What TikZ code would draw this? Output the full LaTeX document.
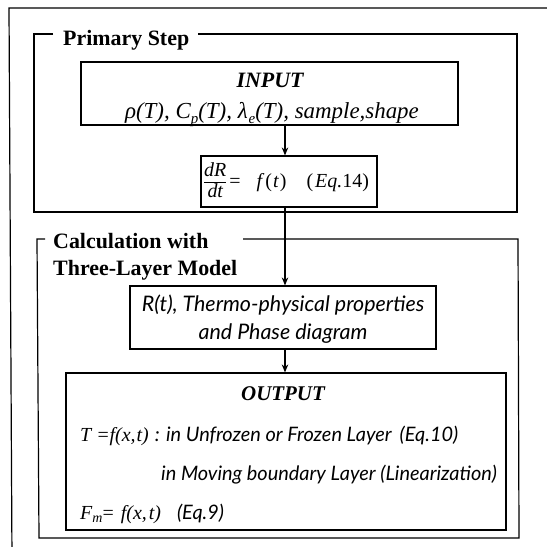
\documentclass[tikz,border=0pt]{standalone}
\usepackage{fontspec}
\setmainfont{Liberation Serif}
\newfontfamily\osans{Lato}
\usetikzlibrary{arrows.meta}
\newcommand\fsz[1]{\fontsize{#1}{#1}\selectfont}
\newcommand\lowsub[2][13]{\raisebox{-0.4ex}{\fontsize{#1}{#1}\selectfont #2}}
\newcommand\sit{\osans\itshape}
\newcommand\myfrac[2]{\begin{tabular}{@{}c@{}}#1\\\hline\rule{0pt}{15bp}#2\end{tabular}}
\begin{document}
\begin{tikzpicture}[x=1bp,y=-1bp,
  frame/.style={line width=1.2bp, line join=miter},
  box/.style={draw, line width=1.2bp, inner sep=0pt},
  txt/.style={inner sep=0pt, anchor=base},
  txtw/.style={inner sep=0pt, anchor=base west},
  gtitle/.style={inner sep=0pt, anchor=base west, font=\bfseries\fsz{22}},
  arr/.style={line width=1.1bp, -{Stealth[length=8bp,width=6.5bp]}}]

\useasboundingbox (0,0) rectangle (547,547);
\clip (0,0) rectangle (547,547);

% outer frame (cut by the page edges)
\draw[frame] (560,8) -- (9,8) -- (12,560);

% ---------- Primary Step ----------
\node[gtitle] (ptitle) at (63,46) {Primary Step};
\draw[frame] (53,34) -- (34,34) -- (34,212) -- (517,212) -- (517,34) -- (198,34);

\node[box, minimum width=377bp, minimum height=63bp] (input) at (269.5,93.5) {};
\node[txt, font=\bfseries\itshape\fsz{22}] (intitle) at (270,88) {INPUT};
\node[txt, font=\itshape\fsz{23}] (inline) at (272,119)
  {ρ(T), C\lowsub[15]{p}(T), λ\lowsub[15]{\kern1bp e}(T), sample,shape};

\node[box, minimum width=176bp, minimum height=51bp] (dr) at (289,181.5) {};
\node[txtw, font=\fsz{20}] (drtext) at (204,188)
  {\myfrac{\itshape dR}{\itshape dt}\kern3bp=\hspace{16bp}\textit{f}\kern1bp(\kern1bp\textit{t}\kern1bp)\hspace{20bp}(\kern2bp\textit{Eq.}14)};

% ---------- Calculation with Three-Layer Model ----------
\node[gtitle] (ctitle1) at (53,248) {Calculation with};
\node[gtitle] (ctitle2) at (53,275) {Three-Layer Model};
\draw[frame] (45,239) -- (37,239) -- (39,538) -- (519,538) -- (518,239) -- (243,239);

\node[box, minimum width=306bp, minimum height=63bp] (rbox) at (283,317.5) {};
\node[txt, font=\sit\fsz{21.5}] (rline1) at (283,311) {R(t), Thermo-physical properties};
\node[txt, font=\sit\fsz{21.5}] (rline2) at (283,339) {and Phase diagram};

\node[box, minimum width=440bp, minimum height=157bp] (out) at (286,451.5) {};
\node[txt, font=\bfseries\itshape\fsz{21}] (outtitle) at (283,400) {OUTPUT};
\node[txtw] (oline1) at (80,441)
  {{\itshape\fsz{20}T =f(x,\kern1bp t)}\hspace{6bp}{\sit\fsz{20}: in Unfrozen or Frozen Layer\hspace{8bp}(Eq.10)}};
\node[txtw, font=\sit\fsz{20}] (oline2) at (161,480) {in Moving boundary Layer (Linearization)};
\node[txtw] (oline3) at (80,519)
  {{\itshape\fsz{20}F\lowsub[14]{m}\kern-1bp= \kern1bp f(x,\kern2bp t)}\hspace{16bp}{\sit\fsz{20}(Eq.9)}};

% ---------- connectors ----------
\coordinate (ax) at (285,0);
\draw[arr] (input.south -| ax) -- (dr.north -| ax);
\draw[arr] (dr.south -| ax) -- (rbox.north -| ax);
\draw[arr] (rbox.south -| ax) -- (out.north -| ax);
\end{tikzpicture}
\end{document}
